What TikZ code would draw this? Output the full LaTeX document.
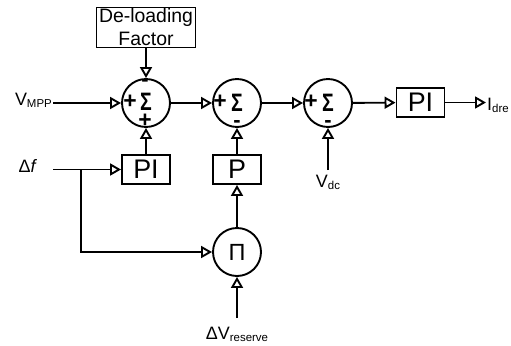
\documentclass[tikz,border=0pt]{standalone}
\usepackage{fontspec}
\usepackage{graphicx}
\setmainfont{Liberation Sans}
\usepackage{tikz}
\usetikzlibrary{arrows.meta}

\newcommand{\lowsub}[1]{\raisebox{-2pt}{\fontsize{11.5}{12}\selectfont #1}}
\newcommand{\sumsym}{\scalebox{0.85}[1.1]{\fontsize{23}{23}\selectfont\bfseries Σ}}

\begin{document}
\begin{tikzpicture}[x=0.3528cm, y=-0.3528cm,
  blk/.style={draw=black, line width=1.9pt, minimum width=48bp, minimum height=29bp,
              inner sep=0pt, font=\fontsize{27}{27}\selectfont},
  sumnode/.style={draw=black, line width=1.9pt, circle, minimum size=48bp, inner sep=0pt},
  sgn/.style={inner sep=0pt, font=\fontsize{23}{23}\selectfont\bfseries},
  neg/.style={inner sep=0pt, font=\fontsize{22}{22}\selectfont\bfseries},
  lbl/.style={inner sep=1pt, font=\fontsize{18}{18}\selectfont},
  arr/.style={-{Triangle[open, length=11pt, width=12pt]}, line width=1.9pt},
  wire/.style={line width=1.9pt}
]
  \useasboundingbox (0,0) rectangle (51.1,34.6);

  % Blocks
  \node[blk, minimum width=99bp, minimum height=40bp, align=center,
        font=\fontsize{19.5}{23}\selectfont] (load) at (14.6,2.75) {De-loading\\Factor};
  \node[sumnode] (s1) at (14.6,10.3) {\raisebox{2pt}{\sumsym}};
  \node[sumnode] (s2) at (23.7,10.3) {\sumsym};
  \node[sumnode] (s3) at (32.8,10.3) {\sumsym};
  \node[blk] (pi2) at (42.05,10.25) {PI};
  \node[blk] (pi1) at (14.6,16.95) {PI};
  \node[blk] (p)   at (23.7,16.95) {P};
  \node[sumnode, font=\fontsize{23.5}{23.5}\selectfont] (prod) at (23.7,25.2) {Π};

  % Signs
  \node[sgn] (s1a) at (13.0,10.2) {+};
  \node[neg] (s1b) at (14.5,8.3) {-};
  \node[sgn] (s1c) at (14.5,12.1) {+};
  \node[sgn] (s2a) at (22.0,10.2) {+};
  \node[neg] (s2b) at (23.7,12.45) {-};
  \node[sgn] (s3a) at (31.1,10.2) {+};
  \node[neg] (s3b) at (32.8,12.45) {-};

  % Inputs and outputs
  \node[lbl, anchor=east] (vmpp) at (5.3,10.0) {V\lowsub{MPP}};
  \node[lbl] (df) at (2.8,16.6) {Δ\textit{f}};
  \coordinate (dfin) at (5.3,16.95);
  \coordinate (jn) at (8.1,16.95);
  \coordinate (vdcin) at (32.8,17.0);
  \node[lbl, anchor=north] (vdc) at (32.8,17.4) {V\lowsub{dc}};
  \coordinate (dvin) at (23.7,31.8);
  \node[lbl, anchor=north] (dvr) at (23.7,32.6) {ΔV\lowsub{reserve}};
  \node[lbl, anchor=west] (idre) at (48.6,10.55) {I\lowsub{dre}};

  % Signal paths
  \draw[arr] (load) -- (s1);
  \draw[arr] (vmpp.east |- s1) -- (s1);
  \draw[arr] (s1) -- (s2);
  \draw[arr] (s2) -- (s3);
  \draw[arr] (s3) -- (pi2);
  \draw[arr] (pi2) -- (idre.west |- pi2);
  \draw[wire] (dfin) -- (jn);
  \draw[arr] (jn) -- (pi1);
  \draw[arr] (jn) |- (prod);
  \draw[arr] (pi1) -- (s1);
  \draw[arr] (p) -- (s2);
  \draw[arr] (prod) -- (p);
  \draw[arr] (dvin) -- (prod);
  \draw[arr] (vdcin) -- (s3);
\end{tikzpicture}
\end{document}
